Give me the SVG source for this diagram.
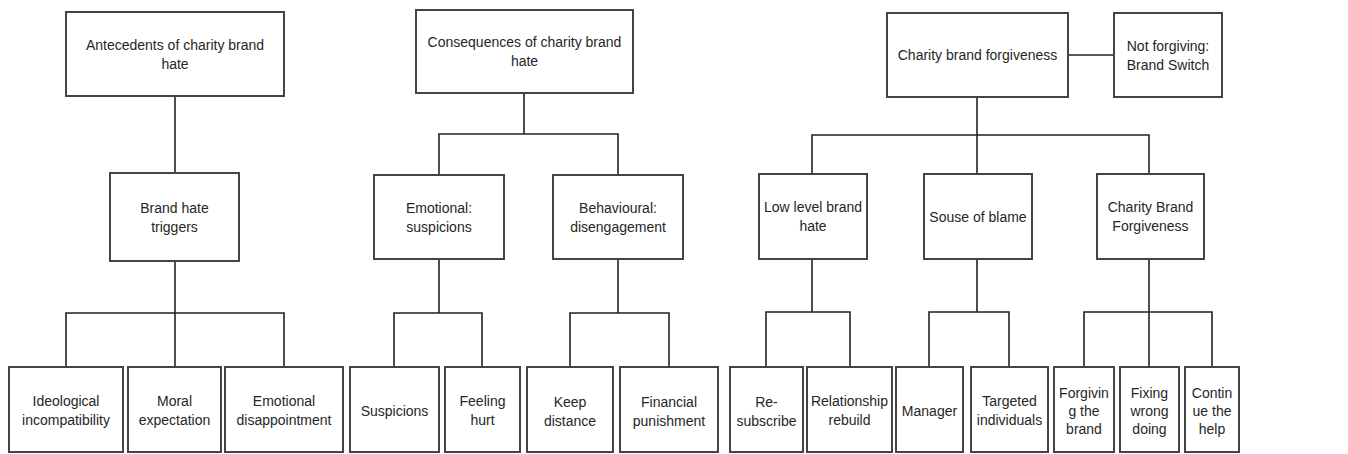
<svg xmlns="http://www.w3.org/2000/svg" width="1348" height="454" viewBox="0 0 1348 454">
<style>
rect{fill:#fff;stroke:#444;stroke-width:2}
text{font-family:"Liberation Sans",Arial,sans-serif;font-size:14px;fill:#262626;text-anchor:middle;dominant-baseline:central}
#connectors path{fill:none;stroke:#222;stroke-width:1.6}
</style>
<rect x="0" y="0" width="1348" height="454" style="fill:#fff;stroke:none"/>
<g id="connectors">
<path d="M175,96V173"/>
<path d="M175,261V313M66,367V313H284V367M175,313V367"/>
<path d="M524,93V134M439,175V134H618V175"/>
<path d="M439,259V313M394,367V313H482V367"/>
<path d="M618,259V313M570,367V313H669V367"/>
<path d="M977,97V135M812,174V135H1149V174M977,135V174"/>
<path d="M1068,55H1114"/>
<path d="M812,259V312M766,367V312H850V367"/>
<path d="M977,259V312M929,367V312H1009V367"/>
<path d="M1149,259V312M1084,367V312H1212V367M1149,312V367"/>
</g>
<g id="n-antecedents"><rect x="66" y="12" width="218" height="84"/><text x="175" y="44.5">Antecedents of charity brand</text><text x="175" y="63.5">hate</text></g>
<g id="n-consequences"><rect x="416" y="10" width="217" height="83"/><text x="524.5" y="42">Consequences of charity brand</text><text x="524.5" y="61">hate</text></g>
<g id="n-forgiveness"><rect x="887" y="13" width="181" height="84"/><text x="977.5" y="55">Charity brand forgiveness</text></g>
<g id="n-notforgiving"><rect x="1114" y="13" width="108" height="84"/><text x="1168" y="46">Not forgiving:</text><text x="1168" y="64.5">Brand Switch</text></g>
<g id="n-triggers"><rect x="110" y="173" width="129" height="88"/><text x="174.5" y="207.5">Brand hate</text><text x="174.5" y="226.5">triggers</text></g>
<g id="n-emotional"><rect x="374" y="175" width="130" height="84"/><text x="439" y="207.5">Emotional:</text><text x="439" y="226.5">suspicions</text></g>
<g id="n-behavioural"><rect x="553" y="175" width="130" height="84"/><text x="618" y="207.5">Behavioural:</text><text x="618" y="226.5">disengagement</text></g>
<g id="n-lowlevel"><rect x="759" y="174" width="108" height="85"/><text x="813" y="207">Low level brand</text><text x="813" y="226">hate</text></g>
<g id="n-souse"><rect x="924" y="174" width="108" height="85"/><text x="978" y="216.5">Souse of blame</text></g>
<g id="n-cbf"><rect x="1097" y="174" width="107" height="85"/><text x="1150.5" y="207">Charity Brand</text><text x="1150.5" y="226">Forgiveness</text></g>
<g id="n-ideological"><rect x="9" y="367" width="114" height="85"/><text x="66" y="401">Ideological</text><text x="66" y="420">incompatibility</text></g>
<g id="n-moral"><rect x="128" y="367" width="93" height="85"/><text x="174.5" y="401">Moral</text><text x="174.5" y="420">expectation</text></g>
<g id="n-disappointment"><rect x="225" y="367" width="118" height="85"/><text x="284" y="401">Emotional</text><text x="284" y="420">disappointment</text></g>
<g id="n-suspicions"><rect x="350" y="367" width="89" height="85"/><text x="394.5" y="411">Suspicions</text></g>
<g id="n-hurt"><rect x="445" y="367" width="75" height="85"/><text x="482.5" y="401">Feeling</text><text x="482.5" y="420">hurt</text></g>
<g id="n-distance"><rect x="527" y="367" width="86" height="85"/><text x="570" y="402">Keep</text><text x="570" y="421">distance</text></g>
<g id="n-financial"><rect x="620" y="367" width="98" height="85"/><text x="669" y="402">Financial</text><text x="669" y="421">punishment</text></g>
<g id="n-resubscribe"><rect x="730" y="367" width="73" height="85"/><text x="766.5" y="402">Re-</text><text x="766.5" y="421">subscribe</text></g>
<g id="n-rebuild"><rect x="807" y="367" width="85" height="85"/><text x="849.5" y="401">Relationship</text><text x="849.5" y="420">rebuild</text></g>
<g id="n-manager"><rect x="896" y="367" width="67" height="85"/><text x="929.5" y="411">Manager</text></g>
<g id="n-targeted"><rect x="971" y="367" width="77" height="85"/><text x="1009.5" y="401">Targeted</text><text x="1009.5" y="420">individuals</text></g>
<g id="n-forgiving"><rect x="1054" y="367" width="60" height="85"/><text x="1084" y="393">Forgivin</text><text x="1084" y="411">g the</text><text x="1084" y="429">brand</text></g>
<g id="n-fixing"><rect x="1120" y="367" width="59" height="85"/><text x="1149.5" y="393">Fixing</text><text x="1149.5" y="411">wrong</text><text x="1149.5" y="429">doing</text></g>
<g id="n-continue"><rect x="1185" y="367" width="54" height="85"/><text x="1212" y="393">Contin</text><text x="1212" y="411">ue the</text><text x="1212" y="429">help</text></g>
</svg>
